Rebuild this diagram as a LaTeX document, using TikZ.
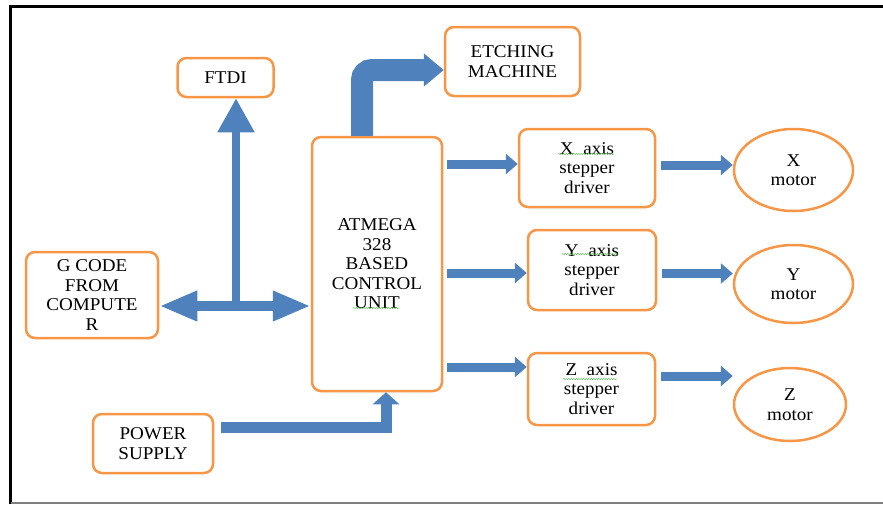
\documentclass[tikz,border=0pt]{standalone}
\usepackage{xcolor}
\usepackage{fontspec}
\setmainfont[FakeStretch=1.06]{Liberation Serif}
\usepackage{tikz}
\usetikzlibrary{positioning}
\usetikzlibrary{arrows.meta,shapes.geometric,decorations.pathmorphing}
\definecolor{boxorange}{HTML}{F79646}
\definecolor{flowblue}{HTML}{4F81BD}
\definecolor{spellgreen}{HTML}{5CB85C}

\begin{document}
\begin{tikzpicture}[x=1pt,y=-1pt,on grid,
  every node/.style={font=\fontsize{18}{19.5}\selectfont},
  box/.style={draw=boxorange,line width=2.5pt,rounded corners=9pt,align=center,inner sep=2pt},
  motor/.style={ellipse,draw=boxorange,line width=2.5pt,align=center,inner sep=0pt},
  flow/.style={flowblue,line width=9pt,-{Triangle[length=12pt,width=20pt]}},
  spell/.style={spellgreen,line width=0.5pt,decorate,decoration={snake,amplitude=0.6pt,segment length=2.5pt}}]
  \useasboundingbox (0,0) rectangle (883,504);
  % frame
  \draw[line width=3pt] (10.5,504) -- (10.5,6) -- (883,6);
  \draw[gray,line width=1.5pt] (10.5,503) -- (883,503);

  \node[box,minimum width=130pt,minimum height=254pt] (atm) at (377,264) {ATMEGA\\328\\BASED\\CONTROL\\UNIT};
  \node[box,minimum width=96pt,minimum height=39pt] (ftdi) at (225.5,77.5) {FTDI};
  \node[box,minimum width=132pt,minimum height=86pt] (gcode) at (92,295) {G CODE\\FROM\\COMPUTE\\R};
  \node[box,minimum width=120pt,minimum height=59pt] (psu) at (153,443.5) {POWER\\SUPPLY};
  \node[box,minimum width=135pt,minimum height=69pt] (etch) at (512.5,61.5) {ETCHING\\MACHINE};
  \node[box,minimum width=136pt,minimum height=78pt] (xdrv) at (587,168) {X\ \ axis\\stepper\\driver};
  \node[box,minimum width=128pt,minimum height=80pt] (ydrv) at (592,270) {Y\ \ axis\\stepper\\driver};
  \node[box,minimum width=127pt,minimum height=72pt] (zdrv) at (591.5,389) {Z\ \ axis\\stepper\\driver};
  \node[motor,minimum width=119pt,minimum height=82pt] (xmot) [below right=2pt and 206.5pt of xdrv] {X\\motor};
  \node[motor,minimum width=119pt,minimum height=78pt] (ymot) [below right=14pt and 201.5pt of ydrv] {Y\\motor};
  \node[motor,minimum width=112pt,minimum height=73pt] (zmot) [below right=15.5pt and 198.5pt of zdrv] {Z\\motor};

  % spelling marks
  \draw[spell] ([xshift=-29pt,yshift=14pt]xdrv.center) -- ++(56,0);
  \draw[spell] ([xshift=-30pt,yshift=16pt]ydrv.center) -- ++(56,0);
  \draw[spell] ([xshift=-28.5pt,yshift=10pt]zdrv.center) -- ++(54,0);
  \draw[spell] ([xshift=-24pt,yshift=-44pt]atm.center) -- ++(46,0);

  % arrows
  \coordinate (hub) at (236,306);
  \draw[flow,line width=10pt,-{Triangle[length=38pt,width=28pt]}] (hub) -- (gcode.east |- hub);
  \draw[flow,line width=10pt,-{Triangle[length=38pt,width=28pt]}] (hub) -- (atm.west |- hub);
  \draw[flow,line width=8pt,-{Triangle[length=34pt,width=35pt]}] (hub) -- (ftdi.south -| hub);
  \draw[flow,line width=22pt,rounded corners=10pt,-{Triangle[length=20pt,width=32pt]}] ([xshift=-15pt]atm.north) |- ([yshift=-8.5pt]etch.west);
  \draw[flow,line width=11pt,-{Triangle[length=12pt,width=26pt]}] ([xshift=7pt,yshift=16.5pt]psu.east) -| ([xshift=9pt]atm.south);
  \draw[flow,shorten <=4pt] (atm.east |- 0,164) -- (xdrv.west |- 0,164);
  \draw[flow,shorten <=4pt] (atm.east |- 0,273) -- (ydrv.west |- 0,273);
  \draw[flow,shorten <=4pt] (atm.east |- 0,367) -- (zdrv.west |- 0,367);
  \draw[flow,shorten <=5pt] (xdrv.east |- 0,165) -- (xmot.west |- 0,165);
  \draw[flow,shorten <=5pt] (ydrv.east |- 0,273.5) -- (ymot.west |- 0,273.5);
  \draw[flow,shorten <=5pt] (zdrv.east |- 0,376) -- (zmot.west |- 0,376);
\end{tikzpicture}
\end{document}
